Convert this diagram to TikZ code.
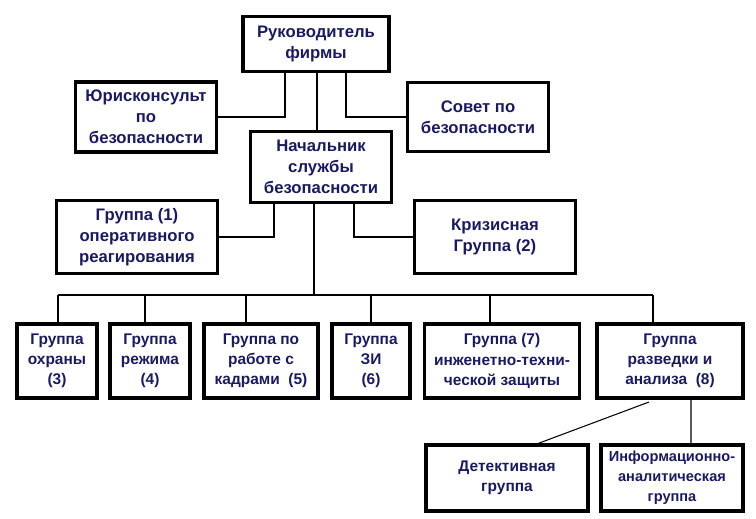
\documentclass[tikz,border=0pt]{standalone}
\usepackage{fontspec}
\setmainfont{Liberation Sans}
\usepackage{xcolor}
\definecolor{inkblue}{HTML}{1A1A5C}

\tikzset{
  box/.style={draw,line width=1.8pt,align=center,inner sep=1pt,
    font=\bfseries\fontsize{9.5}{12}\selectfont,text=inkblue},
  small/.style={box,font=\bfseries\fontsize{8.8}{11.5}\selectfont},
  link/.style={line width=0.6pt}
}

\begin{document}
\begin{tikzpicture}[x=0.02cm,y=-0.02cm]
            \useasboundingbox (0,0) rectangle (756,519);

            \node (ruk) at (316,44) [box,minimum width=2.92cm,minimum height=1.10cm] {Руководитель\\фирмы};
            \node (jur) at (146,117) [box,minimum width=2.82cm,minimum height=1.40cm] {Юрисконсульт\\по\\безопасности};
            \node (sovet) at (478,117) [box,minimum width=2.82cm,minimum height=1.38cm] {Совет по\\безопасности};
            \node (nach) at (321,167) [box,minimum width=2.82cm,minimum height=1.42cm] {Начальник\\службы\\безопасности};
            \node (gr1) at (137,237) [box,minimum width=3.22cm,minimum height=1.46cm] {Группа (1)\\оперативного\\реагирования};
            \node (kriz) at (495,237) [box,minimum width=3.22cm,minimum height=1.46cm] {Кризисная\\Группа (2)};

            \node (g3) at (57,361) [small,minimum width=1.60cm,minimum height=1.48cm] {Группа\\охраны\\(3)};
            \node (g4) at (150,361) [small,minimum width=1.60cm,minimum height=1.48cm] {Группа\\режима\\(4)};
            \node (g5) at (261,361) [small,minimum width=2.28cm,minimum height=1.48cm] {Группа по\\работе с\\кадрами~~(5)};
            \node (g6) at (371,361) [small,minimum width=1.56cm,minimum height=1.48cm] {Группа\\ЗИ\\(6)};
            \node (g7) at (502,361) [small,minimum width=3.10cm,minimum height=1.48cm] {Группа (7)\\инженетно-техни-\\ческой защиты};
            \node (g8) at (670,361) [small,minimum width=2.92cm,minimum height=1.48cm] {Группа\\разведки и\\анализа~~(8)};

            \node (det) at (507,478) [small,minimum width=3.24cm,minimum height=1.32cm] {Детективная\\группа};
            \node (info) at (672,478) [small,minimum width=2.84cm,minimum height=1.32cm,font=\bfseries\fontsize{8.3}{11.5}\selectfont] {Информационно-\\аналитическая\\группа};

            % helper x positions
            \coordinate (xa) at (285,0);
            \coordinate (xb) at (317,0);
            \coordinate (xc) at (346,0);
            \coordinate (xd) at (274,0);
            \coordinate (xe) at (314,0);
            \coordinate (xf) at (354,0);
            \coordinate (bus) at (0,295);
            \coordinate (d8) at (649,402);
            \coordinate (i8) at (691,0);

            \draw[link] (ruk.south -| xa) |- (jur.east)
            (ruk.south -| xc) |- (sovet.west)
            (ruk.south -| xb) -- (nach.north -| xb)
            (nach.south -| xd) |- (gr1.east)
            (nach.south -| xf) |- (kriz.west)
            (nach.south -| xe) -- (bus -| xe);

            \draw[link] (58,295) -- (653,295);
            \foreach \x in {58,145,246,371,490,653}
              \draw[link] (\x,295) -- (\x,324);

            \draw[link] (d8) -- (534,445)
            (g8.south -| i8) -- (info.north -| i8);

        \end{tikzpicture}
\end{document}
